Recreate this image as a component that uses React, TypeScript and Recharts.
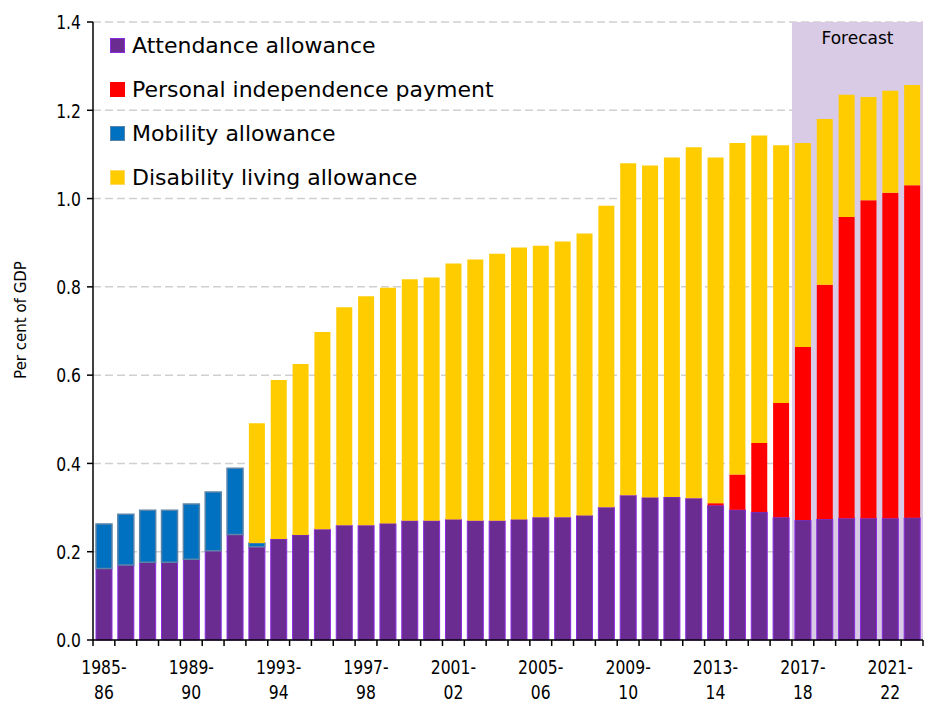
import { BarChart, Bar, XAxis, YAxis, CartesianGrid, ReferenceArea } from 'recharts';

const years = [
  '1985-86', '1986-87', '1987-88', '1988-89', '1989-90', '1990-91', '1991-92', '1992-93',
  '1993-94', '1994-95', '1995-96', '1996-97', '1997-98', '1998-99', '1999-00', '2000-01',
  '2001-02', '2002-03', '2003-04', '2004-05', '2005-06', '2006-07', '2007-08', '2008-09',
  '2009-10', '2010-11', '2011-12', '2012-13', '2013-14', '2014-15', '2015-16', '2016-17',
  '2017-18', '2018-19', '2019-20', '2020-21', '2021-22', '2022-23',
];

const attendance = [
  0.162, 0.170, 0.176, 0.176, 0.183, 0.202, 0.239, 0.211,
  0.229, 0.238, 0.251, 0.260, 0.260, 0.264, 0.270, 0.270,
  0.273, 0.270, 0.270, 0.273, 0.278, 0.278, 0.282, 0.301,
  0.328, 0.323, 0.324, 0.321, 0.305, 0.295, 0.290, 0.278,
  0.272, 0.274, 0.276, 0.276, 0.276, 0.277,
];

const mobility = [
  0.101, 0.115, 0.118, 0.118, 0.125, 0.133, 0.150, 0.009,
  0, 0, 0, 0, 0, 0, 0, 0, 0, 0, 0, 0, 0, 0, 0, 0,
  0, 0, 0, 0, 0, 0, 0, 0, 0, 0, 0, 0, 0, 0,
];

const pip = [
  0, 0, 0, 0, 0, 0, 0, 0, 0, 0, 0, 0, 0, 0, 0, 0, 0, 0, 0, 0,
  0, 0, 0, 0, 0, 0, 0, 0,
  0.005, 0.080, 0.156, 0.259, 0.392, 0.531, 0.682, 0.720, 0.737, 0.753,
];

const dla = [
  0, 0, 0, 0, 0, 0, 0, 0.271,
  0.360, 0.387, 0.447, 0.494, 0.519, 0.534, 0.547, 0.551,
  0.580, 0.592, 0.605, 0.616, 0.615, 0.625, 0.639, 0.683,
  0.752, 0.752, 0.769, 0.795, 0.783, 0.751, 0.697, 0.584,
  0.462, 0.375, 0.277, 0.234, 0.231, 0.227,
];

const yTicks = [0, 0.2, 0.4, 0.6, 0.8, 1.0, 1.2, 1.4];

const legendItems = [
  { label: 'Attendance allowance', fill: '#6a2c91', stroke: '#8a2be2' },
  { label: 'Personal independence payment', fill: '#ff0000', stroke: '#ff0000' },
  { label: 'Mobility allowance', fill: '#0070c0', stroke: '#5b84a8' },
  { label: 'Disability living allowance', fill: '#ffcc00', stroke: '#ffd966' },
];

const data = years.map((year, i) => ({
  year,
  aa: attendance[i],
  ma: mobility[i],
  pip: pip[i],
  dla: dla[i],
}));

const W = 925;
const H = 702;
const M = { top: 22, right: 2, bottom: 0, left: 0 };
const Y_W = 93;
const X_H = 62;
const BAND = (W - M.left - M.right - Y_W) / years.length;
const FONT = '"DejaVu Sans", sans-serif';
const SQUEEZE = 0.78;

function XTick(props: any) {
  const { x, y, index, payload } = props;
  const half = BAND / 2;
  const [a, b] = String(payload.value).split('-');
  return (
    <g>
      <line x1={x - half} x2={x - half} y1={y} y2={y + 6} stroke="#000" strokeWidth={1.5} />
      {index === years.length - 1 && (
        <line x1={x + half} x2={x + half} y1={y} y2={y + 6} stroke="#000" strokeWidth={1.5} />
      )}
      {index % 4 === 0 && (
        <text transform={`translate(${x},${y}) scale(${SQUEEZE},1)`} textAnchor="middle" fontFamily={FONT} fontSize={20} fill="#000">
          <tspan x={0} y={34}>{a}-</tspan>
          <tspan x={0} y={59}>{b}</tspan>
        </text>
      )}
    </g>
  );
}

function YTick(props: any) {
  const { x, y, payload } = props;
  return (
    <text transform={`translate(${x},${y}) scale(${SQUEEZE},1)`} textAnchor="end" dominantBaseline="central" fontFamily={FONT} fontSize={20} fill="#000">
      {Number(payload.value).toFixed(1)}
    </text>
  );
}

// y-axis title, sits a little above the plot's middle like the original
function YTitle() {
  return (
    <text transform="translate(21,320) rotate(-90)" textAnchor="middle" dominantBaseline="central" fontFamily={FONT} fontSize={15} fill="#000">
      Per cent of GDP
    </text>
  );
}

function LegendBox() {
  return (
    <div style={{ position: 'absolute', left: 110, top: 23, fontFamily: FONT, fontSize: 22, color: '#000', pointerEvents: 'none' }}>
      {legendItems.map(it => (
        <div key={it.label} style={{ display: 'flex', alignItems: 'center', height: 44, whiteSpace: 'nowrap' }}>
          <span style={{ width: 13, height: 13, background: it.fill, border: `1px solid ${it.stroke}`, marginRight: 7, display: 'inline-block' }} />
          <span>{it.label}</span>
        </div>
      ))}
    </div>
  );
}

export default function App() {
  return (
    <div style={{ position: 'absolute', left: 0, top: 0, width: W, height: H, background: '#fff' }}>
      <BarChart width={W} height={H} data={data} margin={M} barSize={16}>
        <ReferenceArea
          x1="2017-18"
          x2="2022-23"
          y1={0}
          y2={1.4}
          fill="#d9cbe6"
          fillOpacity={1}
          stroke="none"
          label={{ value: 'Forecast', position: 'insideTop', offset: 10, fontFamily: FONT, fontSize: 17, fill: '#000' }}
        />
        <CartesianGrid vertical={false} stroke="#d0d0d0" strokeDasharray="8 4" strokeWidth={1.5} />
        <XAxis
          dataKey="year"
          height={X_H}
          interval={0}
          tickSize={0}
          tickMargin={0}
          tickLine={false}
          axisLine={{ stroke: '#000', strokeWidth: 1.5 }}
          tick={<XTick />}
        />
        <YAxis
          width={Y_W}
          domain={[0, 1.4]}
          ticks={yTicks}
          tick={<YTick />}
          tickSize={6}
          tickMargin={6}
          tickLine={{ stroke: '#000', strokeWidth: 1.5 }}
          axisLine={{ stroke: '#000', strokeWidth: 1.5 }}
          label={{ content: () => <YTitle /> }}
        />
        <Bar dataKey="aa" stackId="s" fill="#6a2c91" stroke="#8a2be2" strokeWidth={1} isAnimationActive={false} />
        <Bar dataKey="ma" stackId="s" fill="#0070c0" stroke="#5b84a8" strokeWidth={1.5} isAnimationActive={false} />
        <Bar dataKey="pip" stackId="s" fill="#ff0000" isAnimationActive={false} />
        <Bar dataKey="dla" stackId="s" fill="#ffcc00" isAnimationActive={false} />
      </BarChart>
      <LegendBox />
    </div>
  );
}
